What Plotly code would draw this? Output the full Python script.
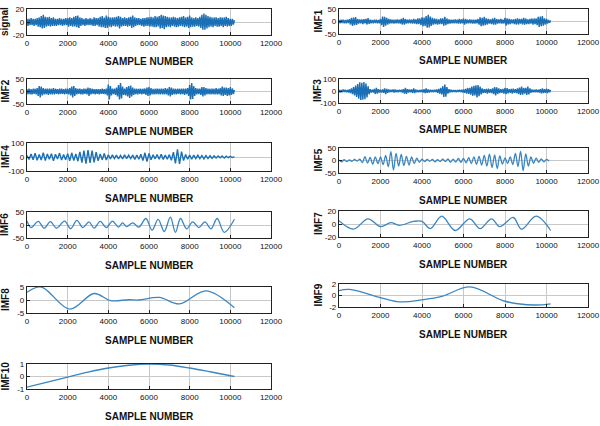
import plotly.graph_objects as go

# ---------------- data ----------------
x_dense = list(range(0, 10201, 50))      # sample numbers for dense traces
x_imf4 = list(range(0, 10201, 100))
x_imf5 = list(range(0, 10201, 125))

signal = [5,-6,5,-5,6,-5,5,-6,5,-5, 6,-7,7,-8,9,-10,11,-9,8,-7,
          7,-6,8,-7,6,-6,7,-6,5,-6, 5,-5,6,-5,5,-6,5,-5,6,-5,
          6,-7,7,-6,6,-7,8,-7,9,-8, 10,-9,7,-6,6,-5,5,-6,6,-5,
          5,-5,6,-5,5,-6,7,-6,6,-5, 6,-7,8,-8,9,-8,7,-9,10,-9,
          8,-7,7,-8,7,-6,7,-7,8,-7, 9,-10,8,-7,6,-6,7,-6,6,-7,
          7,-6,8,-9,10,-8,7,-6,6,-5, 6,-5,5,-6,6,-7,6,-6,7,-6,
          7,-7,8,-7,7,-8,9,-8,8,-7, 9,-10,11,-9,10,-11,9,-8,8,-7,
          7,-8,7,-6,8,-7,7,-8,6,-7, 7,-6,8,-7,9,-8,7,-7,8,-9,
          10,-8,7,-7,6,-7,7,-6,6,-7, 8,-9,11,-12,13,-12,11,-10,9,-8,
          8,-7,7,-8,7,-6,7,-7,6,-7, 7,-6,7,-8,7,-6,8,-7,6,-6,
          5,-6,5,-4,3]

imf1 = [6,-7,7,-6,7,-7,6,-7,7,-6, 9,-12,15,-18,16,-15,18,-14,10,-8,
        8,-7,8,-10,9,-7,10,-12,14,-10, 7,-7,6,-7,7,-6,7,-7,6,-7,
        10,-15,20,-22,19,-17,15,-12,10,-8, 8,-7,7,-8,7,-7,8,-7,7,-8,
        10,-12,15,-13,10,-8,7,-7,8,-7, 7,-8,10,-8,8,-10,12,-10,13,-15,
        17,-19,16,-18,22,-25,27,-24,20,-18, 15,-13,12,-10,10,-12,8,-10,12,-10,
        13,-17,19,-15,12,-10,8,-8,7,-7, 7,-7,8,-7,7,-8,10,-8,8,-7,
        12,-13,10,-8,7,-7,8,-7,7,-8, 7,-8,7,-7,10,-13,17,-19,15,-17,
        19,-15,13,-12,10,-8,8,-10,12,-13, 15,-13,10,-8,8,-7,10,-8,7,-8,
        15,-17,13,-12,10,-10,8,-7,8,-10, 10,-12,13,-12,10,-8,10,-12,15,-13,
        12,-10,8,-10,10,-8,12,-13,12,-10, 12,-15,19,-22,20,-19,22,-17,13,-12,
        10,-8,6,-5,4]

imf2 = [9,-11,12,-11,9,-12,11,-9,11,-12, 14,-18,22,-24,20,-16,14,-12,11,-11,
        12,-14,12,-11,11,-12,14,-12,11,-9, 9,-11,11,-9,11,-9,9,-11,11,-9,
        11,-12,14,-16,20,-24,22,-18,14,-12, 11,-9,11,-11,9,-11,11,-9,11,-12,
        16,-18,14,-12,11,-9,9,-11,9,-9, 9,-11,9,-9,11,-9,9,-11,12,-16,
        28,-32,22,-16,12,-11,12,-14,16,-20, 26,-32,34,-28,20,-14,12,-16,18,-20,
        22,-26,24,-20,16,-14,12,-11,11,-12, 11,-9,11,-12,11,-9,12,-14,16,-18,
        18,-16,14,-12,11,-12,11,-11,12,-11, 11,-12,12,-11,11,-12,14,-12,12,-16,
        18,-20,16,-14,12,-11,11,-12,11,-9, 11,-12,12,-11,12,-14,12,-11,14,-18,
        26,-32,34,-30,22,-18,14,-12,12,-11, 12,-14,18,-20,18,-16,14,-12,12,-11,
        11,-12,12,-11,11,-12,14,-12,11,-11, 14,-16,20,-18,16,-14,16,-18,14,-16,
        18,-14,12,-10,6]

imf3 = [10,-12,9,-10,12,-9,10,-10,9,-12, 14,-18,22,-27,32,-36,45,-50,58,-64,
        72,-75,68,-72,75,-68,62,-54,40,-27, 15,-12,10,-13,18,-25,27,-22,15,-12,
        10,-12,13,-16,22,-25,18,-15,12,-10, 10,-9,12,-13,12,-10,9,-10,10,-9,
        10,-12,15,-22,27,-24,16,-13,12,-10, 12,-16,22,-18,13,-10,9,-10,9,-9,
        10,-12,15,-18,22,-16,13,-12,10,-9, 9,-10,10,-9,12,-15,18,-22,25,-29,
        40,-50,54,-47,32,-22,15,-12,10,-9, 8,-7,8,-10,8,-7,10,-9,10,-12,
        13,-15,18,-22,25,-24,27,-30,36,-40, 43,-36,47,-54,50,-43,36,-29,22,-18,
        16,-15,18,-22,20,-16,15,-18,22,-27, 32,-36,30,-25,22,-18,16,-15,18,-22,
        25,-27,23,-20,16,-15,18,-22,20,-16, 15,-18,22,-25,29,-32,36,-31,25,-22,
        27,-32,36,-29,22,-16,13,-11,10,-11, 13,-11,10,-13,16,-20,22,-18,15,-16,
        20,-18,15,-11,8]

imf4 = [10,-18,22,-20,28,-24,18,-22,30,-26, 22,-16,24,-28,20,-14,28,-22,18,-20,
        24,-28,30,-26,22,-30,36,-40,45,-48, 50,-42,45,-38,34,-28,22,-20,25,-22,
        16,-13,15,-11,13,-14,11,-13,15,-12, 13,-11,14,-17,14,-16,20,-26,30,-32,
        25,-20,16,-13,18,-16,20,-17,14,-16, 17,-24,34,-45,55,-50,38,-26,18,-15,
        13,-16,14,-11,13,-12,11,-13,10,-11, 9,-10,9,-7,8,-6,7,-8,6,-5,
        5,-4,3]

imf5 = [2,-5,3,-4,2,-3,4,-2, 5,-8,15,-10,12,-15,14,-12,
        14,-16,20,-25,35,-38,28,-22, 24,-20,16,-18,14,-12,9,-7,
        5,-4,4,-3,4,-5,3,-4, 5,-4,6,-7,5,-6,8,-7,
        8,-9,11,-12,14,-15,16,-18, 20,-22,25,-28,22,-32,18,-14,
        10,-12,14,-16,28,-24,36,-40, 26,-22,14,-11,9,-7,6,-5,
        4,-2]

imf6_x = [0,200,550,850,1150,1450,1850,2150,2450,2750,3050,3300,3600,3900,4200,4500,4700,
          4900,5200,5500,5850,6150,6450,6750,7050,7300,7550,7850,8150,8450,8750,9050,9350,9700,10200]
imf6 = [15,-10,14,-12,13,-12,15,-14,18,-10,12,-12,14,-10,15,-8,8,
        -6,8,-8,25,-20,22,-25,30,-28,25,-15,12,-10,12,-15,25,-28,22]

imf7_x = [0,700,1400,2000,2500,2900,3600,4000,4400,4950,5600,6300,6800,7350,7750,8400,8800,9500,10200]
imf7 = [5,-8,8,-4,2,-2,4,4,-7,12,-10,8,-7,8,-4,10,-8,12,-10]

imf8_x = [0,700,2100,3300,4100,5000,5500,6500,7500,8800,10200]
imf8 = [3,5,-3.5,2.5,-0.2,0.1,0,1,-1.5,3.5,-3]

imf9_x = [0,500,2900,4000,5000,6300,8000,9400,10200]
imf9 = [0.85,1.05,-1.1,-0.75,-0.1,1.5,-1.0,-1.65,-1.45]

imf10_x = [0,1000,2000,3000,4000,5000,6000,7000,8000,9000,10200]
imf10 = [-0.85,-0.45,-0.05,0.35,0.68,0.9,1.0,0.92,0.68,0.38,0.0]

x_ticks = [0, 2000, 4000, 6000, 8000, 10000, 12000]
x_label = "SAMPLE NUMBER"

# name, x, y, y-limit, column, (top px, bottom px), smooth
panels = [
    ("signal", x_dense, signal, 20, 0, (9, 35), False),
    ("IMF1", x_dense, imf1, 50, 1, (9, 34), False),
    ("IMF2", x_dense, imf2, 50, 0, (79, 104), False),
    ("IMF3", x_dense, imf3, 100, 1, (79, 103), False),
    ("IMF4", x_imf4, imf4, 100, 0, (143, 171), False),
    ("IMF5", x_imf5, imf5, 50, 1, (148, 173), True),
    ("IMF6", imf6_x, imf6, 50, 0, (212, 238), True),
    ("IMF7", imf7_x, imf7, 20, 1, (211, 237), True),
    ("IMF8", imf8_x, imf8, 5, 0, (287, 313), True),
    ("IMF9", imf9_x, imf9, 2, 1, (284, 307), True),
    ("IMF10", imf10_x, imf10, 1, 0, (364, 389), True),
]

W, H = 600, 426
cols = [(27, 271), (339, 588)]
ylab_x = [5, 318]
tick_font = dict(family="Liberation Sans, Arial", size=8, color="#111")
title_font = dict(family="Liberation Sans, Arial", size=10, color="#111")

fig = go.Figure()
layout = dict(width=W, height=H, margin=dict(l=0, r=0, t=0, b=0, autoexpand=False),
              paper_bgcolor="white", plot_bgcolor="white", showlegend=False)
annotations = []

for i, (name, xs, ys, lim, col, (top, bot), smooth) in enumerate(panels, start=1):
    xa = "x" if i == 1 else f"x{i}"
    ya = "y" if i == 1 else f"y{i}"
    fig.add_trace(go.Scatter(
        x=xs, y=ys, mode="lines", xaxis=xa, yaxis=ya,
        line=dict(color="#3a86c2" if smooth else "#1a6fb5",
                  width=1.3 if smooth else 1.4,
                  shape="spline" if smooth else "linear"),
        hoverinfo="skip"))
    x0, x1 = cols[col]
    xd = [x0 / W, x1 / W]
    yd = [1 - bot / H, 1 - top / H]
    common = dict(ticks="inside", ticklen=3, tickcolor="#222", showgrid=True,
                  gridcolor="#c8c8c8", gridwidth=1, showline=True, mirror=True,
                  linecolor="#222", linewidth=1.2, zeroline=False,
                  tickfont=tick_font, fixedrange=True, automargin=False)
    layout["xaxis" if i == 1 else f"xaxis{i}"] = dict(
        domain=xd, anchor=ya, range=[0, 12000], tickvals=x_ticks,
        ticktext=[str(v) for v in x_ticks], **common)
    layout["yaxis" if i == 1 else f"yaxis{i}"] = dict(
        domain=yd, anchor=xa, range=[-lim, lim], tickvals=[-lim, 0, lim],
        ticktext=[str(-lim), "0", str(lim)], **common)
    annotations.append(dict(
        text=f"<b>{x_label}</b>", xref="paper", yref="paper",
        x=(x0 + x1) / 2 / W, y=1 - (bot + 27) / H, xanchor="center", yanchor="middle",
        showarrow=False, font=title_font))
    annotations.append(dict(
        text=f"<b>{name}</b>", xref="paper", yref="paper", textangle=-90,
        x=ylab_x[col] / W, y=1 - (top + bot) / 2 / H, xanchor="center", yanchor="middle",
        showarrow=False, font=title_font))

layout["annotations"] = annotations
fig.update_layout(**layout)
fig.write_html("out.html", config={"displayModeBar": False},
               post_script="document.body.style.margin='0';document.body.style.overflow='hidden';")
